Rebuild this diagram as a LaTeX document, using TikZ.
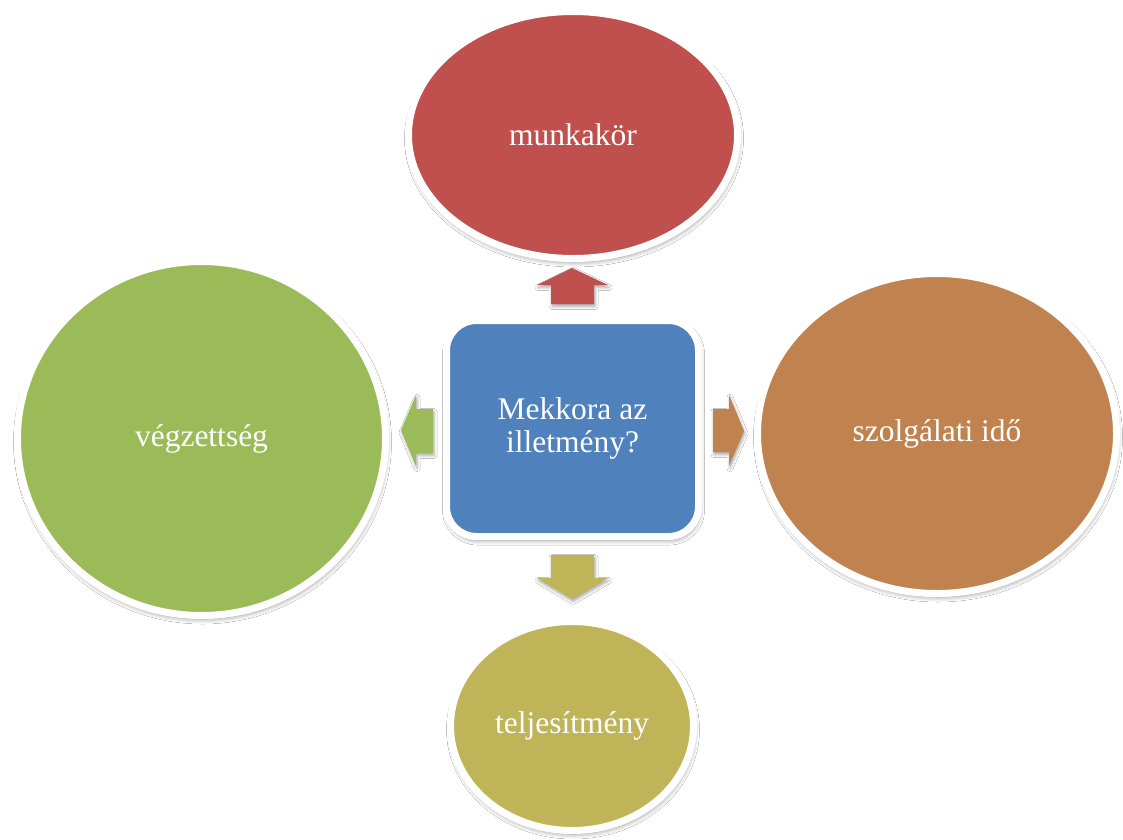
\documentclass[tikz,border=0pt]{standalone}
\usepackage{fontspec}
\setmainfont{Liberation Serif}
\usetikzlibrary{shapes.geometric,shadows.blur}
\definecolor{cblue}{HTML}{4F81BD}
\definecolor{cred}{HTML}{C0504D}
\definecolor{cgreen}{HTML}{9BBB59}
\definecolor{corange}{HTML}{C0834F}
\definecolor{colive}{HTML}{BFB458}
\tikzset{
  bubble/.style={ellipse, draw=white, line width=7pt, inner sep=0pt,
    text=white, font=\fontsize{31.5}{33}\selectfont,
    blur shadow={shadow xshift=1pt, shadow yshift=-3.5pt, shadow blur steps=6, shadow blur radius=5pt, shadow opacity=45}},
  centerbox/.style={rectangle, rounded corners=30pt, draw=white, line width=7pt, inner sep=0pt,
    fill=cblue, text=white, align=center, font=\fontsize{31.5}{33}\selectfont,
    blur shadow={shadow xshift=1pt, shadow yshift=-3.5pt, shadow blur steps=6, shadow blur radius=5pt, shadow opacity=45}},
  blockarrow/.style={blur shadow={shadow xshift=1pt, shadow yshift=-2.5pt, shadow blur steps=4, shadow blur radius=3pt, shadow opacity=35}}
}
\begin{document}
\begin{tikzpicture}[x=1pt,y=-1pt]
\useasboundingbox (0,0) rectangle (1123,839);
\fill[white] (0,0) rectangle (1123,839);
% nodes
\node[bubble, fill=cred, minimum width=329pt, minimum height=247pt] (job) at (573,135) {munkakör};
\node[bubble, fill=cgreen, minimum width=368pt, minimum height=354pt] (edu) at (201.5,438.5) {végzettség};
\node[bubble, fill=corange, minimum width=359pt, minimum height=320pt] (time) at (937,433.5) {szolgálati idő};
\node[bubble, fill=colive, minimum width=243pt, minimum height=209pt] (perf) at (572,726) {teljesítmény};
\node[centerbox, minimum width=252pt, minimum height=216pt] (q) at (572.5,428.5) {Mekkora az\\illetmény?};
% block arrows
\fill[cred, blockarrow] (551,304) -- (551,285) -- (537,285) -- (572,268) -- (608,285) -- (594,285) -- (594,304) -- cycle;
\fill[colive, blockarrow] (551,555) -- (551,578) -- (537,578) -- (572,599) -- (608,578) -- (594,578) -- (594,555) -- cycle;
\fill[cgreen, blockarrow] (433,409) -- (416,409) -- (416,395) -- (401,430) -- (416,466) -- (416,453) -- (433,453) -- cycle;
\fill[corange, blockarrow] (713,409) -- (729,409) -- (729,395) -- (744,431) -- (729,466) -- (729,452) -- (713,452) -- cycle;
\end{tikzpicture}
\end{document}
